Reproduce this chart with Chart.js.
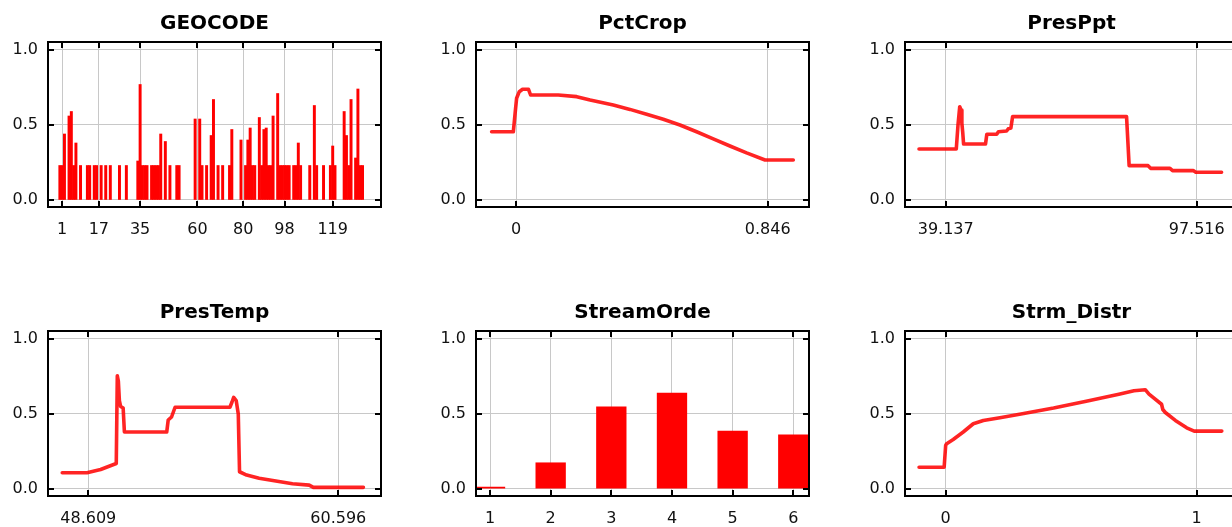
<!DOCTYPE html>
<html>
<head>
<meta charset="utf-8">
<title>Response curves</title>
<script src="https://cdn.jsdelivr.net/npm/chart.js@4.4.1/dist/chart.umd.min.js"></script>
<style>
    html, body { margin: 0; padding: 0; background: #fff; }
    body { position: relative; width: 1232px; height: 527px; overflow: hidden; }
    canvas { position: absolute; }
</style>
</head>
<body>
<script>
// ---- data -------------------------------------------------------------
// GEOCODE: one bar per code, 0..132
const geocodeValues = [
    0.23, 0.23, 0.44, 0,    0.56, 0.59, 0.23, 0.38, 0,    0.23,
    0,    0,    0.23, 0.23, 0,    0.23, 0.23, 0,    0.23, 0,
    0.23, 0,    0.23, 0,    0,    0,    0.23, 0,    0,    0.23,
    0,    0,    0,    0,    0.26, 0.77, 0.23, 0.23, 0.23, 0,
    0.23, 0.23, 0.23, 0.23, 0.44, 0,    0.39, 0,    0.23, 0,
    0,    0.23, 0.23, 0,    0,    0,    0,    0,    0,    0.54,
    0,    0.54, 0.23, 0,    0.23, 0,    0.43, 0.67, 0,    0.23,
    0,    0.23, 0,    0,    0.23, 0.47, 0,    0,    0,    0.40,
    0,    0.23, 0.40, 0.48, 0.23, 0.23, 0,    0.55, 0.23, 0.47,
    0.48, 0.23, 0.23, 0.56, 0,    0.71, 0.23, 0.23, 0.23, 0.23,
    0.23, 0,    0.23, 0.23, 0.38, 0.23, 0,    0,    0,    0.23,
    0,    0.63, 0.23, 0,    0,    0.23, 0,    0,    0.23, 0.36,
    0.23, 0,    0,    0,    0.59, 0.43, 0.23, 0.67, 0,    0.28,
    0.74, 0.23, 0.23
];
const geocodeCodes = geocodeValues.map((v, i) => i);
const geocodeTicks = [1, 17, 35, 60, 80, 98, 119];

const pctCropX = [-0.082, -0.009, -0.003, 0.002, 0.011, 0.022, 0.042, 0.049, 0.053, 0.142, 0.204,
                  0.249, 0.327, 0.383, 0.439, 0.495, 0.551, 0.607, 0.663, 0.719, 0.775, 0.837, 0.932];
const pctCropY = [0.455, 0.455, 0.578, 0.678, 0.722, 0.738, 0.738, 0.70, 0.70, 0.70, 0.689,
                  0.667, 0.633, 0.604, 0.571, 0.538, 0.50, 0.455, 0.408, 0.36, 0.314, 0.267, 0.267];
const pctCropTicks = [0, 0.846];

const presPptX = [32.93, 41.6, 42.0, 42.4, 42.7, 42.9, 43.1, 43.3, 48.4, 48.7, 51.0, 51.4,
                  53.3, 53.7, 54.3, 54.7, 81.2, 81.8, 86.2, 86.8, 91.3, 91.9, 96.7, 97.3, 103.3];
const presPptY = [0.34, 0.34, 0.50, 0.622, 0.60, 0.51, 0.45, 0.373, 0.373, 0.438, 0.438, 0.455,
                  0.46, 0.475, 0.48, 0.556, 0.556, 0.229, 0.229, 0.211, 0.211, 0.196, 0.196, 0.185, 0.185];
const presPptTicks = [39.137, 97.516];

const presTempX = [47.36, 48.55, 49.2, 49.95, 50.0, 50.05, 50.1, 50.16, 50.28, 50.34, 52.37, 52.44,
                   52.6, 52.77, 55.4, 55.5, 55.58, 55.7, 55.8, 55.86, 56.2, 56.8, 57.6, 58.4, 59.2, 59.4, 61.8];
const presTempY = [0.108, 0.108, 0.13, 0.17, 0.755, 0.72, 0.59, 0.55, 0.54, 0.38, 0.38, 0.46,
                   0.48, 0.545, 0.545, 0.58, 0.611, 0.59, 0.50, 0.115, 0.093, 0.071, 0.053, 0.035, 0.026, 0.011, 0.011];
const presTempTicks = [48.609, 60.596];

const streamOrdeX = [1, 2, 3, 4, 5, 6];
const streamOrdeY = [0.015, 0.177, 0.55, 0.642, 0.389, 0.364];

const strmDistrX = [-0.106, -0.006, 0.0, 0.004, 0.03, 0.07, 0.11, 0.15, 0.216, 0.30, 0.43, 0.56,
                    0.69, 0.75, 0.795, 0.81, 0.86, 0.865, 0.875, 0.915, 0.96, 0.99, 1.10];
const strmDistrY = [0.145, 0.145, 0.29, 0.302, 0.33, 0.38, 0.435, 0.457, 0.475, 0.50, 0.54, 0.585,
                    0.632, 0.655, 0.662, 0.632, 0.565, 0.53, 0.51, 0.457, 0.408, 0.386, 0.386];
const strmDistrTicks = [0, 1];

const yTicks = [0, 0.5, 1];

// ---- drawing ----------------------------------------------------------
const RED = '#ff0000';
const tickFont = { family: 'DejaVu Sans', size: 16 };

// black frame around the plot + short inward tick marks on all four sides
const frameTicks = {
    id: 'frameTicks',
    afterDraw(chart) {
        const { ctx, chartArea: a, scales } = chart;
        ctx.save();
        ctx.strokeStyle = '#000';
        ctx.lineWidth = 2;
        ctx.strokeRect(a.left, a.top, a.right - a.left, a.bottom - a.top);
        ctx.beginPath();
        scales.y.ticks.forEach(t => {
            const y = Math.round(scales.y.getPixelForValue(t.value));
            ctx.moveTo(a.left, y); ctx.lineTo(a.left + 6, y);
            ctx.moveTo(a.right, y); ctx.lineTo(a.right - 6, y);
        });
        scales.x.ticks.forEach(t => {
            const x = Math.round(scales.x.getPixelForValue(t.value));
            ctx.moveTo(x, a.bottom); ctx.lineTo(x, a.bottom - 6);
            ctx.moveTo(x, a.top); ctx.lineTo(x, a.top + 6);
        });
        ctx.stroke();
        ctx.restore();
    }
};

function toPoints(xs, ys) {
    return xs.map((x, i) => ({ x: x, y: ys[i] }));
}

function makePanel(left, top, title, dataset, kind, xMin, xMax, xTicks) {
    const canvas = document.createElement('canvas');
    canvas.width = 428;
    canvas.height = 288;
    canvas.style.left = left + 'px';
    canvas.style.top = top + 'px';
    document.body.appendChild(canvas);

    return new Chart(canvas, {
        type: kind,
        data: { datasets: [dataset] },
        options: {
            responsive: false,
            animation: false,
            devicePixelRatio: 1,
            layout: { padding: { left: 0, right: 47, top: 0, bottom: 0 } },
            plugins: {
                legend: { display: false },
                tooltip: { enabled: false },
                title: {
                    display: true,
                    text: title,
                    fullSize: false,
                    color: '#000',
                    font: { family: 'DejaVu Sans', size: 20, weight: 'bold' },
                    padding: { top: 12, bottom: 6 }
                }
            },
            scales: {
                x: {
                    type: 'linear',
                    min: xMin,
                    max: xMax,
                    bounds: 'data',
                    offset: false,
                    afterBuildTicks: s => { s.ticks = xTicks.map(v => ({ value: v })); },
                    afterFit: s => { s.height = 81; },
                    ticks: {
                        autoSkip: false, maxRotation: 0, padding: 13,
                        color: '#111', font: tickFont,
                        callback: v => String(v)
                    },
                    grid: { color: '#c8c8c8', lineWidth: 1, drawTicks: false, offset: false },
                    border: { display: false }
                },
                y: {
                    min: -0.0467,
                    max: 1.0533,
                    bounds: 'data',
                    afterBuildTicks: s => { s.ticks = yTicks.map(v => ({ value: v })); },
                    afterFit: s => { s.width = 48; },
                    ticks: {
                        padding: 10, color: '#111', font: tickFont,
                        callback: v => v.toFixed(1)
                    },
                    grid: { color: '#c8c8c8', lineWidth: 1, drawTicks: false },
                    border: { display: false }
                }
            }
        },
        plugins: [frameTicks]
    });
}

function lineSet(xs, ys) {
    return {
        data: toPoints(xs, ys),
        borderColor: 'rgba(255, 0, 0, 0.86)',
        borderWidth: 3.6,
        borderJoinStyle: 'round',
        borderCapStyle: 'round',
        pointRadius: 0,
        tension: 0
    };
}

// zero bars are left out so nothing shows on the baseline
const geocodeBars = {
    data: toPoints(geocodeCodes, geocodeValues).filter(p => p.y > 0),
    backgroundColor: RED,
    borderWidth: 0,
    barPercentage: 1,
    categoryPercentage: 1
};

const streamBars = {
    data: toPoints(streamOrdeX, streamOrdeY),
    backgroundColor: RED,
    borderWidth: 0,
    barPercentage: 0.5,
    categoryPercentage: 1
};

makePanel(0,   0,   'GEOCODE',    geocodeBars, 'bar', -5.18, 140.07, geocodeTicks);
makePanel(428, 0,   'PctCrop',    lineSet(pctCropX, pctCropY), 'line', -0.1345, 0.9848, pctCropTicks);
makePanel(857, 0,   'PresPpt',    lineSet(presPptX, presPptY), 'line', 29.671, 107.12, presPptTicks);
makePanel(0,   289, 'PresTemp',   lineSet(presTempX, presTempY), 'line', 46.677, 62.643, presTempTicks);
makePanel(428, 289, 'StreamOrde', streamBars, 'bar', 0.769, 6.259, streamOrdeX);
makePanel(857, 289, 'Strm_Distr', lineSet(strmDistrX, strmDistrY), 'line', -0.162, 1.1645, strmDistrTicks);
</script>
</body>
</html>
